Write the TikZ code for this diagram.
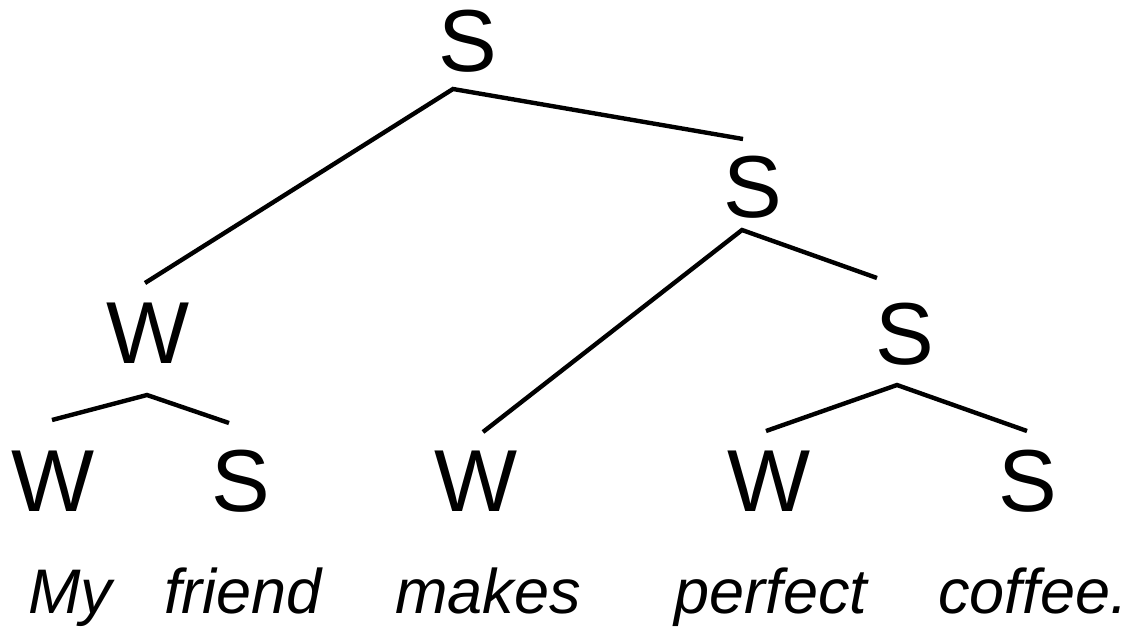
\documentclass[tikz,border=0pt]{standalone}
\usepackage{fontspec}
\setmainfont{Liberation Sans}
\usetikzlibrary{calc}

\tikzset{
  mark label/.style={inner sep=0pt, anchor=base, font=\fontsize{88}{90}\selectfont},
  word/.style={inner sep=0pt, anchor=base, font=\fontsize{63}{66}\selectfont\itshape},
  branch/.style={line width=4.4pt, line cap=butt, line join=miter},
}

\begin{document}
\begin{tikzpicture}[x=1pt, y=-1pt]
  \useasboundingbox (0,0) rectangle (1132,629);

  % metrical labels
  \node[mark label] (s0) at (468,71)  {S};
  \node[mark label] (s1) at (753,217) {S};
  \node[mark label] (w1) at (148,363) {W};
  \node[mark label] (s2) at (905,364) {S};
  \node[mark label] (w2) at (53,511)  {W};
  \node[mark label] (s3) at (241,511) {S};
  \node[mark label] (w3) at (476,511) {W};
  \node[mark label] (w4) at (769,511) {W};
  \node[mark label] (s4) at (1028,511){S};

  % words of the sentence
  \node[word] (my)      at (70,613)   {My};
  \node[word] (friend)  at (243,613)  {friend};
  \node[word] (makes)   at (488,613)  {makes};
  \node[word] (perfect) at (771,613)  {perfect};
  \node[word] (coffee)  at (1033,613) {coffee.};

  % branching points below each parent
  \coordinate (s0j) at ($(s0.base)+(-15,18)$);
  \coordinate (s1j) at ($(s1.base)+(-11,13)$);
  \coordinate (w1j) at ($(w1.base)+(-1,32)$);
  \coordinate (s2j) at ($(s2.base)+(-8,21)$);

  % branch ends above each child
  \coordinate (s1t) at ($(s1.base)+(-10,-78)$);
  \coordinate (w1t) at ($(w1.base)+(-3,-80)$);
  \coordinate (s2t) at ($(s2.base)+(-28,-86)$);
  \coordinate (w2t) at ($(w2.base)+(-1,-91)$);
  \coordinate (s3t) at ($(s3.base)+(-12,-88)$);
  \coordinate (w3t) at ($(w3.base)+(7,-79)$);
  \coordinate (w4t) at ($(w4.base)+(-3,-80)$);
  \coordinate (s4t) at ($(s4.base)+(-1,-80)$);

  % branches
  \draw[branch] (w1t) -- (s0j) -- (s1t);
  \draw[branch] (w3t) -- (s1j) -- (s2t);
  \draw[branch] (w2t) -- (w1j) -- (s3t);
  \draw[branch] (w4t) -- (s2j) -- (s4t);
\end{tikzpicture}
\end{document}
